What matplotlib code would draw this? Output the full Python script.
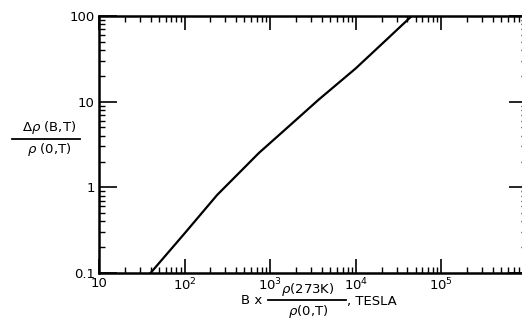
import matplotlib
matplotlib.use("Agg")
import matplotlib.pyplot as plt
from matplotlib.lines import Line2D

# Data
x_vals = [40, 100, 240, 432, 738, 1645, 3660, 10000, 23800, 45000]
y_vals = [0.1, 0.29, 0.815, 1.47, 2.52, 5.14, 10.5, 24.5, 55.0, 100]

x_ticks = [10, 1e2, 1e3, 1e4, 1e5, 1e6]
x_ticklabels = ["10", "$10^2$", "$10^3$", "$10^4$", "$10^5$", ""]
y_ticks = [0.1, 1, 10, 100]
y_ticklabels = ["0.1", "1", "10", "100"]

W, H = 522, 331
fig = plt.figure(figsize=(W / 100, H / 100), dpi=100)
ax = fig.add_axes([99 / W, (H - 273) / H, (527 - 99) / W, (273 - 16) / H])
ax.plot(x_vals, y_vals, color="black", lw=1.6)
ax.set_xscale("log")
ax.set_yscale("log")
ax.set_xlim(10, 1e6)
ax.set_ylim(0.1, 100)
ax.set_xticks(x_ticks)
ax.set_xticklabels(x_ticklabels)
ax.set_yticks(y_ticks)
ax.set_yticklabels(y_ticklabels)
for s in ax.spines.values():
    s.set_linewidth(1.8)
ax.tick_params(which="major", direction="in", top=True, right=True,
               length=10, width=1.2, labelsize=9.5, pad=3)
ax.tick_params(which="minor", direction="in", top=True, right=True,
               length=4, width=1.0)
ax.tick_params(axis="y", which="major", length=13)

# Y label as stacked fraction
fig.text(49 / W, 1 - 128 / H, "Δ$\\rho$ (B,T)", ha="center", va="center", fontsize=9.5)
fig.text(49 / W, 1 - 150 / H, "$\\rho$ (0,T)", ha="center", va="center", fontsize=9.5)
fig.add_artist(Line2D([12 / W, 80 / W], [1 - 139 / H, 1 - 139 / H], color="black",
                      lw=1.3, transform=fig.transFigure))

# X label
fig.text(262 / W, 1 - 300 / H, "B x", ha="right", va="center", fontsize=9.5)
fig.text(308 / W, 1 - 289 / H, "$\\rho$(273K)", ha="center", va="center", fontsize=9.5)
fig.text(308 / W, 1 - 312 / H, "$\\rho$(0,T)", ha="center", va="center", fontsize=9.5)
fig.add_artist(Line2D([268 / W, 346 / W], [1 - 300 / H, 1 - 300 / H], color="black",
                      lw=1.3, transform=fig.transFigure))
fig.text(347 / W, 1 - 301 / H, ", TESLA", ha="left", va="center", fontsize=9.5)

fig.savefig("out.png", dpi=100)
